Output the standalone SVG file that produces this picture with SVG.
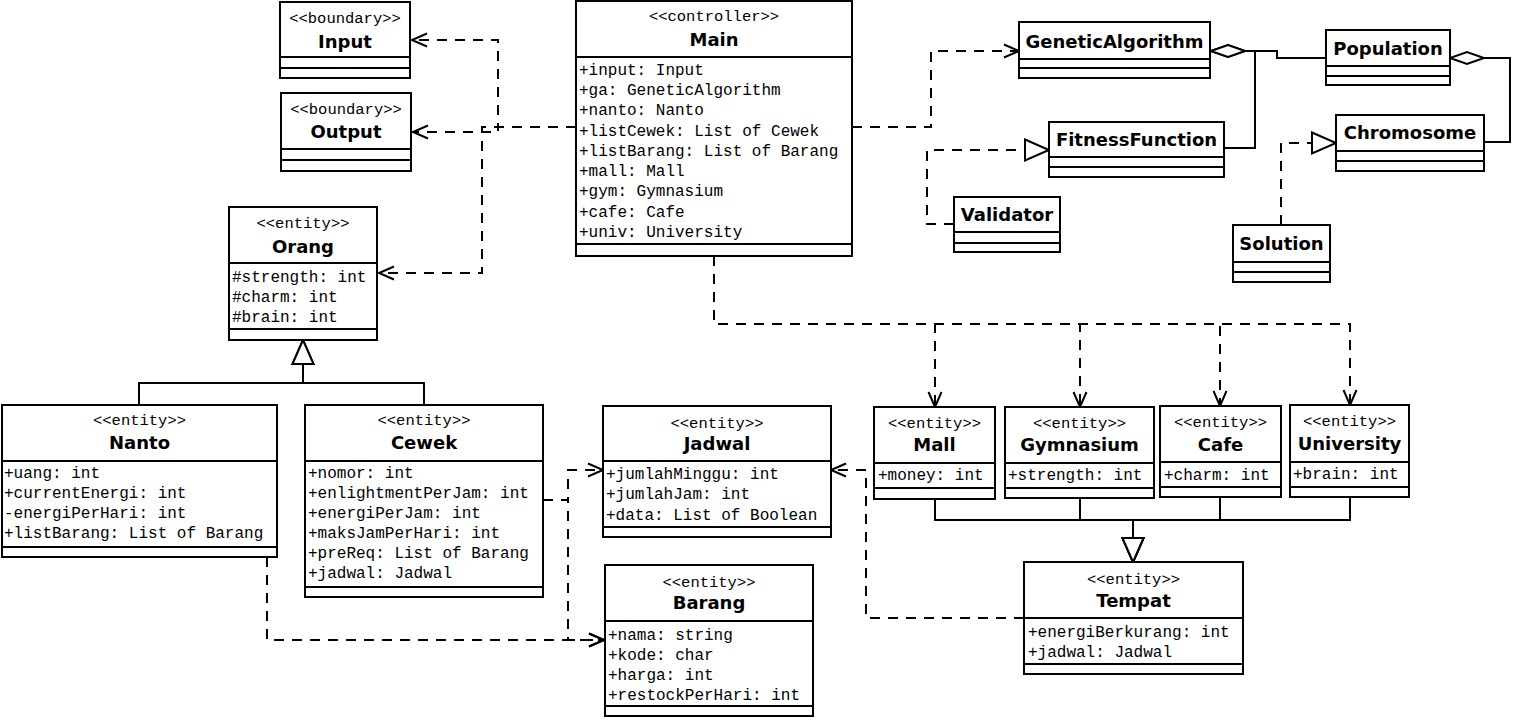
<svg xmlns="http://www.w3.org/2000/svg" width="1515" height="720" viewBox="0 0 1515 720">
<style>
.box{fill:#fff;stroke:#000;stroke-width:2}
.sep{stroke:#000;stroke-width:2}
.st{font-family:"Liberation Mono","Courier New",monospace;font-size:15.5px;fill:#000;text-anchor:middle}
.nm{font-family:"DejaVu Sans",Verdana,sans-serif;font-size:18px;font-weight:bold;fill:#000;text-anchor:middle}
.at{font-family:"Liberation Mono","Courier New",monospace;font-size:16px;fill:#000}
.dep{fill:none;stroke:#000;stroke-width:2;stroke-dasharray:10 8;marker-end:url(#open)}
.real{fill:none;stroke:#000;stroke-width:2;stroke-dasharray:10 8;marker-end:url(#tri)}
.gen{fill:none;stroke:#000;stroke-width:2;marker-end:url(#tri)}
.agg{fill:none;stroke:#000;stroke-width:2;marker-start:url(#dia)}
</style>
<defs>
<marker id="open" markerUnits="userSpaceOnUse" viewBox="-20 -10 22 20" markerWidth="22" markerHeight="20" refX="0" refY="0" orient="auto" overflow="visible">
<path d="M-15,-6.5 L0,0 L-15,6.5" fill="none" stroke="#000" stroke-width="2" stroke-dasharray="none"/>
</marker>
<marker id="tri" markerUnits="userSpaceOnUse" viewBox="-26 -12 28 24" markerWidth="28" markerHeight="24" refX="0" refY="0" orient="auto" overflow="visible">
<path d="M-24,-10.5 L0,0 L-24,10.5 Z" fill="#fff" stroke="#000" stroke-width="2" stroke-dasharray="none"/>
</marker>
<marker id="dia" markerUnits="userSpaceOnUse" viewBox="-36 -8 38 16" markerWidth="38" markerHeight="16" refX="0" refY="0" orient="auto-start-reverse" overflow="visible">
<path d="M0,0 L-17,-6 L-34,0 L-17,6 Z" fill="#fff" stroke="#000" stroke-width="2" stroke-dasharray="none"/>
</marker>
</defs>
<rect width="1515" height="720" fill="#fff"/>

<g id="connectors">
<path class="dep" d="M576,127 H498 V40 H412"/>
<path class="dep" d="M576,127 H498 V132 H413"/>
<path class="dep" d="M576,127 H482 V273 H379"/>
<path class="dep" d="M852,127 H931 V51 H1019"/>
<path class="dep" d="M714,256 V324 H935 V407"/>
<path class="dep" d="M714,256 V324 H1080 V407"/>
<path class="dep" d="M714,256 V324 H1220 V406"/>
<path class="dep" d="M714,256 V324 H1350 V405"/>
<path class="dep" d="M267,557 V640 H604"/>
<path class="dep" d="M543,500 H568 V470 H603"/>
<path class="dep" d="M543,500 H568 V640 H604"/>
<path class="dep" d="M1024,618 H866 V470 H831"/>
<path class="real" d="M954,224 H927 V150 H1049"/>
<path class="real" d="M1281,225 V143 H1336"/>
<path class="agg" d="M1211,51 H1255 V148 H1224"/>
<path class="agg" d="M1211,51 H1277 V58 H1326"/>
<path class="agg" d="M1450,58 H1510 V142 H1484"/>
<path class="gen" d="M139,405 V383 H303 V340"/>
<path class="gen" d="M424,405 V383 H303 V340"/>
<path class="gen" d="M935,499 V520 H1133 V562"/>
<path class="gen" d="M1080,498 V520 H1133 V562"/>
<path class="gen" d="M1220,497 V520 H1133 V562"/>
<path class="gen" d="M1350,497 V520 H1133 V562"/>
</g>

<g id="Input">
<rect class="box" x="280" y="2" width="130" height="76"/>
<line class="sep" x1="280" y1="57" x2="410" y2="57"/>
<line class="sep" x1="280" y1="68" x2="410" y2="68"/>
<text class="st" x="345" y="23">&lt;&lt;boundary&gt;&gt;</text>
<text class="nm" x="345" y="48">Input</text>
</g>

<g id="Output">
<rect class="box" x="281" y="93" width="130" height="78"/>
<line class="sep" x1="281" y1="149" x2="411" y2="149"/>
<line class="sep" x1="281" y1="160" x2="411" y2="160"/>
<text class="st" x="346" y="114">&lt;&lt;boundary&gt;&gt;</text>
<text class="nm" x="346" y="138">Output</text>
</g>

<g id="Main">
<rect class="box" x="576" y="1" width="276" height="255"/>
<line class="sep" x1="576" y1="57" x2="852" y2="57"/>
<line class="sep" x1="576" y1="244" x2="852" y2="244"/>
<text class="st" x="714" y="21">&lt;&lt;controller&gt;&gt;</text>
<text class="nm" x="714" y="46">Main</text>
<text class="at" x="579" y="75">+input: Input</text>
<text class="at" x="579" y="95">+ga: GeneticAlgorithm</text>
<text class="at" x="579" y="115">+nanto: Nanto</text>
<text class="at" x="579" y="136">+listCewek: List of Cewek</text>
<text class="at" x="579" y="156">+listBarang: List of Barang</text>
<text class="at" x="579" y="176">+mall: Mall</text>
<text class="at" x="579" y="196">+gym: Gymnasium</text>
<text class="at" x="579" y="217">+cafe: Cafe</text>
<text class="at" x="579" y="237">+univ: University</text>
</g>

<g id="Orang">
<rect class="box" x="229" y="207" width="148" height="133"/>
<line class="sep" x1="229" y1="263" x2="377" y2="263"/>
<line class="sep" x1="229" y1="329" x2="377" y2="329"/>
<text class="st" x="303" y="228">&lt;&lt;entity&gt;&gt;</text>
<text class="nm" x="303" y="253">Orang</text>
<text class="at" x="232" y="282">#strength: int</text>
<text class="at" x="232" y="302">#charm: int</text>
<text class="at" x="232" y="322">#brain: int</text>
</g>

<g id="Nanto">
<rect class="box" x="2" y="405" width="275" height="152"/>
<line class="sep" x1="2" y1="461" x2="277" y2="461"/>
<line class="sep" x1="2" y1="547" x2="277" y2="547"/>
<text class="st" x="139.5" y="425">&lt;&lt;entity&gt;&gt;</text>
<text class="nm" x="139.5" y="449">Nanto</text>
<text class="at" x="4" y="478">+uang: int</text>
<text class="at" x="4" y="498">+currentEnergi: int</text>
<text class="at" x="4" y="518">-energiPerHari: int</text>
<text class="at" x="4" y="538">+listBarang: List of Barang</text>
</g>

<g id="Cewek">
<rect class="box" x="305" y="405" width="238" height="192"/>
<line class="sep" x1="305" y1="461" x2="543" y2="461"/>
<line class="sep" x1="305" y1="587" x2="543" y2="587"/>
<text class="st" x="424" y="425">&lt;&lt;entity&gt;&gt;</text>
<text class="nm" x="424" y="449">Cewek</text>
<text class="at" x="308" y="478">+nomor: int</text>
<text class="at" x="308" y="498">+enlightmentPerJam: int</text>
<text class="at" x="308" y="518">+energiPerJam: int</text>
<text class="at" x="308" y="538">+maksJamPerHari: int</text>
<text class="at" x="308" y="558">+preReq: List of Barang</text>
<text class="at" x="308" y="578">+jadwal: Jadwal</text>
</g>

<g id="Jadwal">
<rect class="box" x="603" y="406" width="228" height="131"/>
<line class="sep" x1="603" y1="461" x2="831" y2="461"/>
<line class="sep" x1="603" y1="527" x2="831" y2="527"/>
<text class="st" x="717" y="428">&lt;&lt;entity&gt;&gt;</text>
<text class="nm" x="717" y="450">Jadwal</text>
<text class="at" x="606" y="479">+jumlahMinggu: int</text>
<text class="at" x="606" y="499">+jumlahJam: int</text>
<text class="at" x="606" y="520">+data: List of Boolean</text>
</g>

<g id="Barang">
<rect class="box" x="605" y="565" width="208" height="151"/>
<line class="sep" x1="605" y1="621" x2="813" y2="621"/>
<line class="sep" x1="605" y1="706" x2="813" y2="706"/>
<text class="st" x="709" y="587">&lt;&lt;entity&gt;&gt;</text>
<text class="nm" x="709" y="609">Barang</text>
<text class="at" x="608" y="640">+nama: string</text>
<text class="at" x="608" y="660">+kode: char</text>
<text class="at" x="608" y="680">+harga: int</text>
<text class="at" x="608" y="700">+restockPerHari: int</text>
</g>

<g id="Mall">
<rect class="box" x="874" y="407" width="121" height="92"/>
<line class="sep" x1="874" y1="463" x2="995" y2="463"/>
<line class="sep" x1="874" y1="488" x2="995" y2="488"/>
<text class="st" x="934.5" y="428">&lt;&lt;entity&gt;&gt;</text>
<text class="nm" x="934.5" y="451">Mall</text>
<text class="at" x="878" y="480">+money: int</text>
</g>

<g id="Gymnasium">
<rect class="box" x="1005" y="407" width="149" height="91"/>
<line class="sep" x1="1005" y1="463" x2="1154" y2="463"/>
<line class="sep" x1="1005" y1="488" x2="1154" y2="488"/>
<text class="st" x="1079.5" y="428">&lt;&lt;entity&gt;&gt;</text>
<text class="nm" x="1079.5" y="451">Gymnasium</text>
<text class="at" x="1008" y="480">+strength: int</text>
</g>

<g id="Cafe">
<rect class="box" x="1160" y="406" width="121" height="91"/>
<line class="sep" x1="1160" y1="462" x2="1281" y2="462"/>
<line class="sep" x1="1160" y1="487" x2="1281" y2="487"/>
<text class="st" x="1220.5" y="427">&lt;&lt;entity&gt;&gt;</text>
<text class="nm" x="1220.5" y="451">Cafe</text>
<text class="at" x="1164" y="480">+charm: int</text>
</g>

<g id="University">
<rect class="box" x="1290" y="405" width="119" height="92"/>
<line class="sep" x1="1290" y1="462" x2="1409" y2="462"/>
<line class="sep" x1="1290" y1="487" x2="1409" y2="487"/>
<text class="st" x="1349.5" y="426">&lt;&lt;entity&gt;&gt;</text>
<text class="nm" x="1349.5" y="450">University</text>
<text class="at" x="1293" y="479">+brain: int</text>
</g>

<g id="Tempat">
<rect class="box" x="1024" y="562" width="219" height="112"/>
<line class="sep" x1="1024" y1="618" x2="1243" y2="618"/>
<line class="sep" x1="1024" y1="664" x2="1243" y2="664"/>
<text class="st" x="1133.5" y="584">&lt;&lt;entity&gt;&gt;</text>
<text class="nm" x="1133.5" y="607">Tempat</text>
<text class="at" x="1028" y="637">+energiBerkurang: int</text>
<text class="at" x="1028" y="657">+jadwal: Jadwal</text>
</g>

<g id="GeneticAlgorithm">
<rect class="box" x="1019" y="22" width="191" height="56"/>
<line class="sep" x1="1019" y1="59" x2="1210" y2="59"/>
<line class="sep" x1="1019" y1="68" x2="1210" y2="68"/>
<text class="nm" x="1114.5" y="48">GeneticAlgorithm</text>
</g>

<g id="Population">
<rect class="box" x="1326" y="30" width="124" height="55"/>
<line class="sep" x1="1326" y1="66" x2="1450" y2="66"/>
<line class="sep" x1="1326" y1="76" x2="1450" y2="76"/>
<text class="nm" x="1388" y="55">Population</text>
</g>

<g id="Chromosome">
<rect class="box" x="1336" y="115" width="148" height="56"/>
<line class="sep" x1="1336" y1="151" x2="1484" y2="151"/>
<line class="sep" x1="1336" y1="161" x2="1484" y2="161"/>
<text class="nm" x="1410" y="139">Chromosome</text>
</g>

<g id="FitnessFunction">
<rect class="box" x="1049" y="122" width="175" height="55"/>
<line class="sep" x1="1049" y1="157" x2="1224" y2="157"/>
<line class="sep" x1="1049" y1="167" x2="1224" y2="167"/>
<text class="nm" x="1136.5" y="146">FitnessFunction</text>
</g>

<g id="Validator">
<rect class="box" x="954" y="197" width="106" height="55"/>
<line class="sep" x1="954" y1="232" x2="1060" y2="232"/>
<line class="sep" x1="954" y1="243" x2="1060" y2="243"/>
<text class="nm" x="1007" y="221">Validator</text>
</g>

<g id="Solution">
<rect class="box" x="1233" y="225" width="97" height="57"/>
<line class="sep" x1="1233" y1="262" x2="1330" y2="262"/>
<line class="sep" x1="1233" y1="272" x2="1330" y2="272"/>
<text class="nm" x="1281.5" y="250">Solution</text>
</g>
</svg>
